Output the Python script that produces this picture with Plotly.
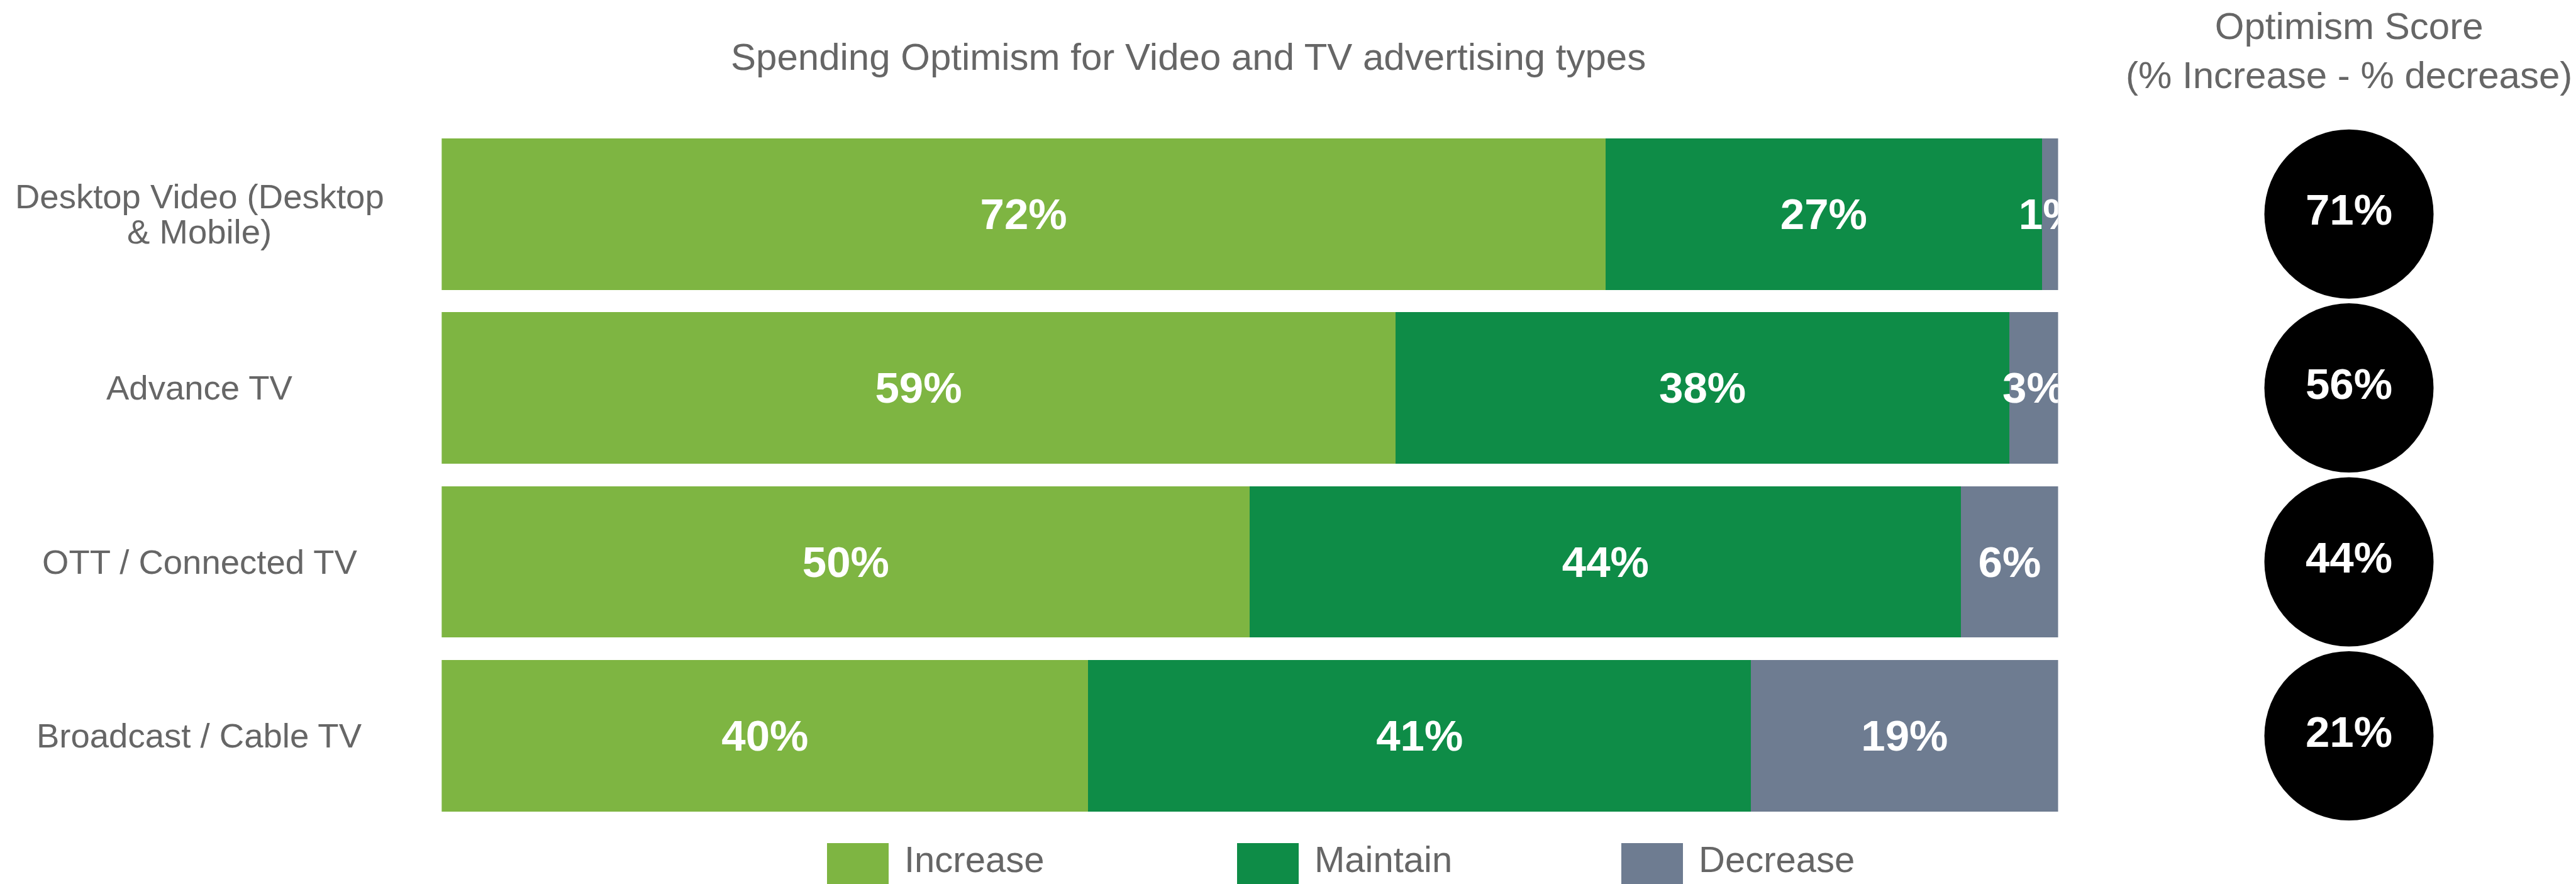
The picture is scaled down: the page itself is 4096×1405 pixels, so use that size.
import plotly.graph_objects as go

# --- data -------------------------------------------------------------
categories = [
    "Desktop Video (Desktop\n& Mobile)",
    "Advance TV",
    "OTT / Connected TV",
    "Broadcast / Cable TV",
]
increase = [72, 59, 50, 40]
maintain = [27, 38, 44, 41]
decrease = [1, 3, 6, 19]
optimism_score = [71, 56, 44, 21]

series_names = ["Increase", "Maintain", "Decrease"]
series_values = [increase, maintain, decrease]
series_colors = ["#7EB542", "#0E8C47", "#6E7C91"]

title_text = "Spending Optimism for Video and TV advertising types"
score_title = "Optimism Score<br>(% Increase - % decrease)"

# --- styling ----------------------------------------------------------
W, H = 4096, 1405
FONT = "Liberation Sans, Arial, sans-serif"
GREY = "#666666"


def px_x(p):
    return p / W


def px_y(p):
    return 1 - p / H


keys = [c.replace("\n", " ") for c in categories]

fig = go.Figure()

for name, vals, color in zip(series_names, series_values, series_colors):
    fig.add_trace(go.Bar(
        y=keys, x=vals, orientation="h", name=name,
        marker=dict(color=color, line=dict(width=0)),
        text=[f"{v}%" for v in vals],
        textposition="inside", insidetextanchor="middle",
        textangle=0, constraintext="none", cliponaxis=True,
        textfont=dict(family=FONT, size=69, color="white", weight="bold"),
        showlegend=False, hoverinfo="skip",
    ))

# optimism score bubbles
fig.add_trace(go.Scatter(
    x=["score"] * len(keys), y=keys, xaxis="x2", yaxis="y",
    mode="markers+text",
    marker=dict(size=269, color="black", line=dict(width=0)),
    text=[f"{v}%" for v in optimism_score],
    textposition="middle center",
    textfont=dict(family=FONT, size=69, color="white", weight="bold"),
    cliponaxis=False, showlegend=False, hoverinfo="skip",
))

annotations = []

# category labels, one annotation per text line
line_gap = 56
for cat, key in zip(categories, keys):
    lines = cat.split("\n")
    n = len(lines)
    for i, line in enumerate(lines):
        annotations.append(dict(
            x=px_x(317), xref="paper", y=key, yref="y",
            text=line, showarrow=False, xanchor="center", yanchor="middle",
            yshift=((n - 1) / 2 - i) * line_gap,
            font=dict(family=FONT, size=54.5, color=GREY),
        ))

annotations.append(dict(
    x=px_x(1889), xref="paper", y=px_y(90), yref="paper",
    text=title_text, showarrow=False, xanchor="center", yanchor="middle",
    font=dict(family=FONT, size=60, color=GREY),
))
annotations.append(dict(
    x=px_x(3735), xref="paper", y=px_y(81), yref="paper",
    text=score_title, showarrow=False, xanchor="center", yanchor="middle",
    font=dict(family=FONT, size=60, color=GREY),
))

# legend: swatches and labels
shapes = []
swatch_left = [1315, 1967, 2578]
swatch_w = 98
for left, name, color in zip(swatch_left, series_names, series_colors):
    shapes.append(dict(
        type="rect", xref="paper", yref="paper",
        x0=px_x(left), x1=px_x(left + swatch_w),
        y0=px_y(1340), y1=px_y(1440),
        fillcolor=color, line=dict(width=0), layer="above",
    ))
    annotations.append(dict(
        x=px_x(left + 121), xref="paper", y=px_y(1365), yref="paper",
        text=name, showarrow=False, xanchor="left", yanchor="middle",
        font=dict(family=FONT, size=58, color=GREY),
    ))

fig.update_layout(
    width=W, height=H,
    margin=dict(l=0, r=0, t=0, b=0),
    paper_bgcolor="white", plot_bgcolor="white",
    barmode="stack", bargap=0.129,
    xaxis=dict(domain=[px_x(702.3), px_x(3272.5)], range=[0, 100],
               visible=False, fixedrange=True),
    xaxis2=dict(domain=[px_x(3735 - 290), px_x(3735 + 290)], anchor="y",
                type="category", visible=False),
    yaxis=dict(domain=[px_y(1307.7), px_y(201.95)],
               categoryorder="array", categoryarray=keys,
               range=[len(keys) - 0.5, -0.5], autorange=False,
               visible=False),
    annotations=annotations,
    shapes=shapes,
    showlegend=False,
)

fig.write_html("out.html")
